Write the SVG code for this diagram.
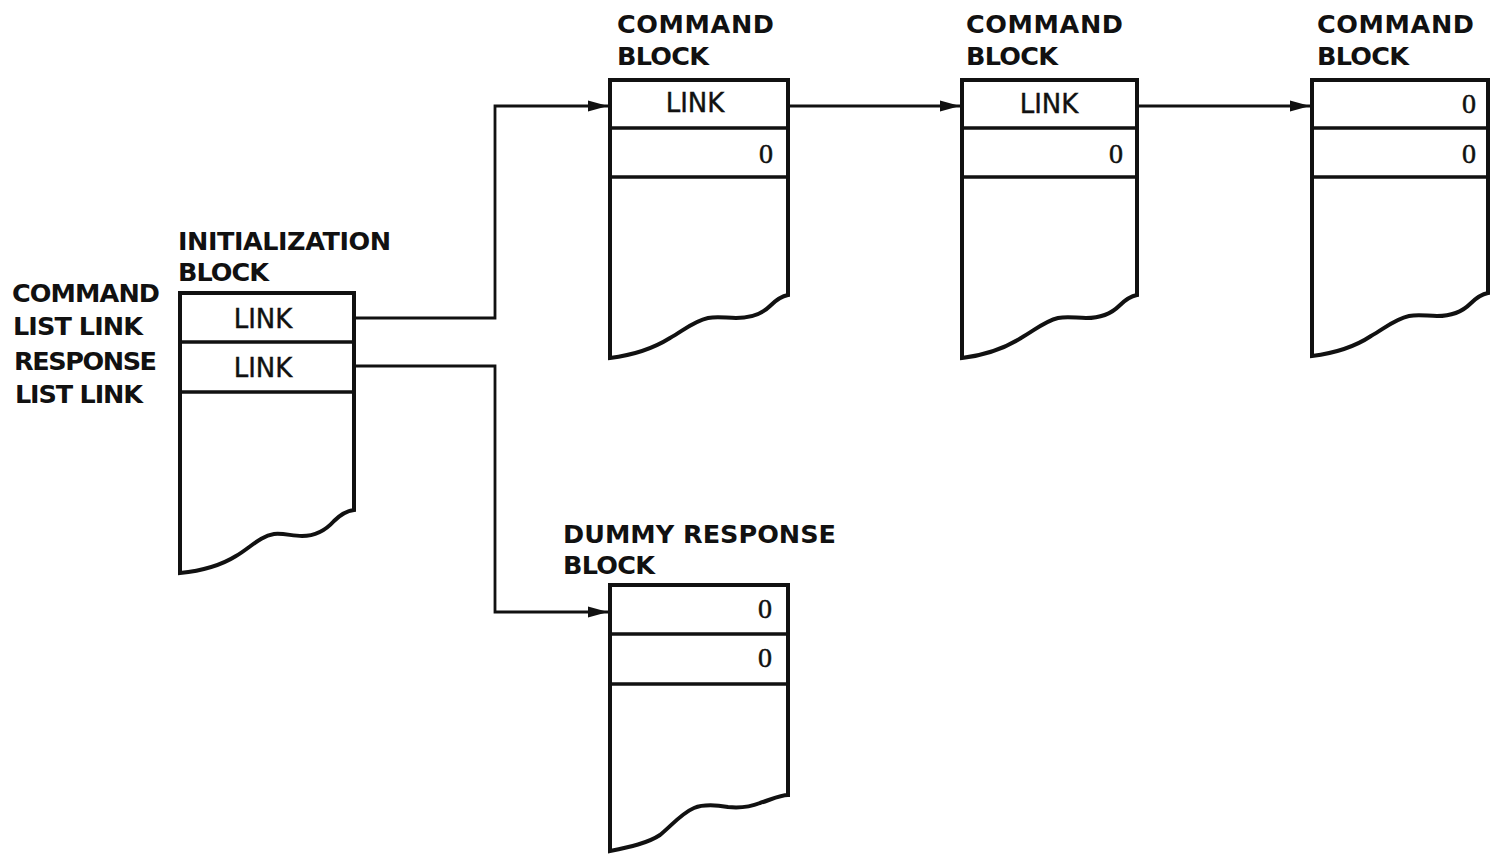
<svg xmlns="http://www.w3.org/2000/svg" width="1494" height="857" viewBox="0 0 1494 857">
<style>
.box{fill:#fff;stroke:#111;stroke-width:4;stroke-linejoin:miter}
.div{stroke:#111;stroke-width:3.5}
.lbl{font-family:"DejaVu Sans",sans-serif;font-weight:bold;font-size:25.5px;fill:#111}
.cell{font-family:"DejaVu Sans",sans-serif;font-size:26px;fill:#111;stroke:#111;stroke-width:0.4;text-anchor:middle}
.zero{font-family:"Liberation Serif",serif;font-size:28px;fill:#111;stroke:#111;stroke-width:0.5;text-anchor:end}
.conn{fill:none;stroke:#111;stroke-width:2.8}
</style>
<defs>
<marker id="arr" markerUnits="userSpaceOnUse" markerWidth="21" markerHeight="13" refX="20" refY="6.5" orient="auto">
<path d="M0,1 L20,6.5 L0,12 Z" fill="#111"/>
</marker>
</defs>
<rect width="1494" height="857" fill="#fff"/>

<g id="connectors">
<path class="conn" d="M356,318 H495 V106 H608" marker-end="url(#arr)"/>
<path class="conn" d="M356,366 H495 V612 H608" marker-end="url(#arr)"/>
<path class="conn" d="M790,106 H960" marker-end="url(#arr)"/>
<path class="conn" d="M1139,106 H1310" marker-end="url(#arr)"/>
</g>

<g id="left-labels">
<text class="lbl" x="12" y="302" textLength="148">COMMAND</text>
<text class="lbl" x="13" y="335" textLength="130">LIST LINK</text>
<text class="lbl" x="14" y="370" textLength="143">RESPONSE</text>
<text class="lbl" x="15" y="403" textLength="128">LIST LINK</text>
</g>

<g id="init-block">
<text class="lbl" x="178" y="250" textLength="213">INITIALIZATION</text>
<text class="lbl" x="178" y="281" textLength="91">BLOCK</text>
<path class="box" d="M180,293 H354 V510 C346,511 340,515 334,521 C326,530 316,536 302,536 C292,536 284,533 274,534 C260,536 250,548 236,556 C220,566 200,571 180,573 Z"/>
<line class="div" x1="180" y1="342" x2="354" y2="342"/>
<line class="div" x1="180" y1="392" x2="354" y2="392"/>
<text class="cell" x="263" y="328">LINK</text>
<text class="cell" x="263" y="377">LINK</text>
</g>

<g id="command-block-1">
<text class="lbl" x="617" y="33" textLength="157">COMMAND</text>
<text class="lbl" x="617" y="65" textLength="92">BLOCK</text>
<path class="box" d="M610,80 H788 V295 C782,296 776,300 770,306 C762,314 750,318 736,318 C726,318 718,316 708,318 C694,321 684,330 670,338 C654,348 634,355 610,358 Z"/>
<line class="div" x1="610" y1="128" x2="788" y2="128"/>
<line class="div" x1="610" y1="177" x2="788" y2="177"/>
<text class="cell" x="695" y="112">LINK</text>
<text class="zero" x="773" y="163">0</text>
</g>

<g id="command-block-2">
<text class="lbl" x="966" y="33" textLength="157">COMMAND</text>
<text class="lbl" x="966" y="65" textLength="92">BLOCK</text>
<path class="box" d="M962,80 H1137 V295 C1131,296 1125,300 1119,306 C1111,314 1100,318 1086,318 C1076,318 1068,316 1058,318 C1045,321 1035,330 1021,338 C1005,348 986,355 962,358 Z"/>
<line class="div" x1="962" y1="128" x2="1137" y2="128"/>
<line class="div" x1="962" y1="177" x2="1137" y2="177"/>
<text class="cell" x="1049" y="113">LINK</text>
<text class="zero" x="1123" y="163">0</text>
</g>

<g id="command-block-3">
<text class="lbl" x="1317" y="33" textLength="157">COMMAND</text>
<text class="lbl" x="1317" y="65" textLength="92">BLOCK</text>
<path class="box" d="M1312,80 H1488 V293 C1482,294 1476,298 1470,304 C1462,312 1450,316 1437,316 C1427,316 1419,314 1409,316 C1395,319 1385,328 1371,336 C1356,346 1336,353 1312,356 Z"/>
<line class="div" x1="1312" y1="128" x2="1488" y2="128"/>
<line class="div" x1="1312" y1="177" x2="1488" y2="177"/>
<text class="zero" x="1476" y="113">0</text>
<text class="zero" x="1476" y="163">0</text>
</g>

<g id="dummy-response-block">
<text class="lbl" x="563" y="543" textLength="273">DUMMY RESPONSE</text>
<text class="lbl" x="563" y="574" textLength="92">BLOCK</text>
<path class="box" d="M610,585 H788 V795 C780,795 770,800 760,803 C750,807 738,808 728,807 C716,805 704,804 694,808 C682,813 672,825 660,835 C648,843 630,847 610,851 Z"/>
<line class="div" x1="610" y1="634" x2="788" y2="634"/>
<line class="div" x1="610" y1="684" x2="788" y2="684"/>
<text class="zero" x="772" y="618">0</text>
<text class="zero" x="772" y="667">0</text>
</g>
</svg>
